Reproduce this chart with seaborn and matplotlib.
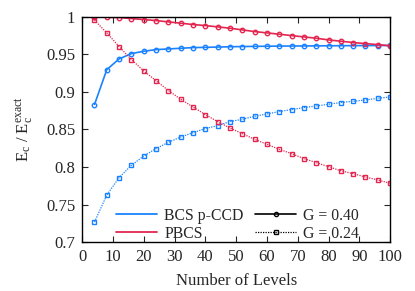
import numpy as np
import pandas as pd
import matplotlib
matplotlib.use("Agg")
import matplotlib.pyplot as plt
import seaborn as sns
from matplotlib.lines import Line2D

levels = list(range(4, 101, 4))

pbcs_040 = [1.0, 0.9996, 0.9991, 0.9978, 0.9964, 0.9951, 0.9933, 0.9916, 0.9898, 0.9884,
            0.9867, 0.9849, 0.9827, 0.9804, 0.9787, 0.9769, 0.9751, 0.9733, 0.9716, 0.9693,
            0.9676, 0.9658, 0.9644, 0.9631, 0.9615]
bcs_040 = [0.8832, 0.9298, 0.9440, 0.9511, 0.9542, 0.9564, 0.9573, 0.9582, 0.9591, 0.9594,
           0.9598, 0.9602, 0.9605, 0.9607, 0.9609, 0.9611, 0.9612, 0.9613, 0.9614, 0.9615,
           0.9616, 0.9617, 0.9618, 0.9618, 0.9619]
pbcs_024 = [0.9956, 0.9787, 0.9604, 0.9431, 0.9280, 0.9150, 0.9019, 0.8903, 0.8800, 0.8698,
            0.8605, 0.8520, 0.8445, 0.8369, 0.8303, 0.8236, 0.8179, 0.8112, 0.8059, 0.8005,
            0.7950, 0.7912, 0.7867, 0.7828, 0.7783]
bcs_024 = [0.7267, 0.7627, 0.7860, 0.8023, 0.8147, 0.8245, 0.8330, 0.8400, 0.8458, 0.8512,
           0.8552, 0.8605, 0.8636, 0.8676, 0.8707, 0.8739, 0.8765, 0.8792, 0.8813, 0.8836,
           0.8859, 0.8876, 0.8893, 0.8916, 0.8933]

xticks = list(range(0, 101, 10))
yticks = [0.7, 0.75, 0.8, 0.85, 0.9, 0.95, 1.0]
ytick_labels = ["0.7", "0.75", "0.8", "0.85", "0.9", "0.95", "1"]

BLUE = "#1a82ff"
RED = "#e3264f"

sns.set_style("ticks")
plt.rcParams["font.family"] = ["Liberation Serif", "DejaVu Serif"]
plt.rcParams["mathtext.fontset"] = "custom"
plt.rcParams["mathtext.rm"] = "Liberation Serif"

fig = plt.figure(figsize=(4.15, 2.91), dpi=100)
ax = fig.add_axes([0.198, 0.168, 0.742, 0.774])

series = [
    (bcs_040, BLUE, (None, None), "o", 1.2),
    (pbcs_040, RED, (None, None), "o", 1.2),
    (bcs_024, BLUE, (1, 1), "s", 0.9),
    (pbcs_024, RED, (1, 1), "s", 0.9),
]
for vals, col, dash, mk, lw in series:
    df = pd.DataFrame({"x": levels, "y": vals})
    sns.lineplot(data=df, x="x", y="y", ax=ax, color=col,
                 marker=mk, markersize=3.2, markerfacecolor="none",
                 markeredgecolor=col, markeredgewidth=1.0, linewidth=lw)
    if dash[0] is not None:
        ax.lines[-1].set_dashes(dash)

ax.set_xlim(0, 100)
ax.set_ylim(0.7, 1.0)
ax.set_xticks(xticks)
ax.set_yticks(yticks)
ax.set_yticklabels(ytick_labels)
ax.tick_params(direction="in", length=4, width=0.8, top=True, right=True,
               labelsize=12, pad=5)
for s in ax.spines.values():
    s.set_visible(True)
    s.set_linewidth(1.0)
    s.set_color("black")

ax.set_xlabel("Number of Levels", fontsize=12, labelpad=6)
ax.set_ylabel(r"$\mathrm{E_c}$ / $\mathrm{E_c^{exact}}$", fontsize=12, labelpad=8)

handles = [
    Line2D([], [], color=BLUE, lw=1.3),
    Line2D([], [], color=RED, lw=1.3),
    Line2D([], [], color="black", lw=1.2, ls="-", marker="o", markersize=3,
           markerfacecolor="none"),
    Line2D([], [], color="black", lw=0.9, dashes=(1, 1), marker="s", markersize=3,
           markerfacecolor="none"),
]
labels = ["BCS p-CCD", "PBCS", "G = 0.40", "G = 0.24"]
ax.legend(handles, labels, ncol=2, frameon=False, fontsize=11.3,
          loc="lower left", bbox_to_anchor=(0.065, -0.06), handlelength=2.6,
          handletextpad=0.45, columnspacing=0.75, labelspacing=0.1)

fig.savefig("out.png", dpi=100)
